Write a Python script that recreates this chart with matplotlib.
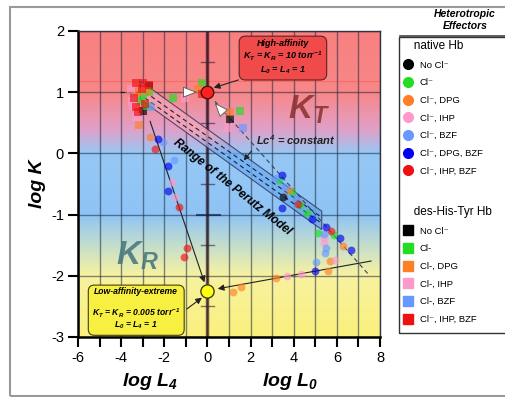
import numpy as np
import matplotlib
matplotlib.use('Agg')
import matplotlib.pyplot as plt
from matplotlib.lines import Line2D
from matplotlib.patches import Polygon, Rectangle

plt.rcParams['font.family'] = ['Liberation Sans', 'DejaVu Sans']
plt.rcParams['axes.unicode_minus'] = False
plt.rcParams['mathtext.fontset'] = 'custom'
plt.rcParams['mathtext.rm'] = 'Liberation Sans:bold:italic'
plt.rcParams['mathtext.it'] = 'Liberation Sans:bold:italic'
plt.rcParams['mathtext.bf'] = 'Liberation Sans:bold:italic'

# native Hb (circles): x = log L, y = log K
nat_labels = ['No Cl\u207b', 'Cl\u207b', 'Cl\u207b, DPG', 'Cl\u207b, IHP', 'Cl\u207b, BZF',
              'Cl\u207b, DPG, BZF', 'Cl\u207b, IHP, BZF']
nat_colors = ['#000000', '#22dd22', '#ff7f27', '#ff99cc', '#6699ff', '#0000ee', '#ee1111']
nat_x = [[3.5],
         [3.33, 3.9, 4.6, 5.13, 5.87, 4.3],
         [-2.65, 1.19, 1.55, 3.2, 5.6, 6.27, 5.68, 3.8],
         [-3.2, -1.65, -1.5, 3.7, 4.35, 5.92, 5.42, 5.4, -3.5],
         [-2.05, -1.55, 5.04, 5.45, 5.5, 5.42, 3.2, 3.6, 4.1],
         [-2.27, -1.83, -1.82, 4.98, 6.15, 6.67, 3.47, 3.47, 4.85, 5.5],
         [-2.43, -1.33, -0.95, -1.08, 5.73, 4.2]]
nat_y = [[-0.72],
         [-0.44, -0.63, -0.97, -1.3, -1.33, -0.84],
         [0.27, -2.26, -2.18, -2.03, -1.92, -1.52, -1.75, -0.6],
         [0.57, -0.47, -0.72, -2.0, -1.97, -1.74, -1.46, -1.38, 0.75],
         [0.18, -0.11, -1.77, -1.62, -1.55, -1.31, -0.4, -0.55, -0.75],
         [0.24, -0.2, -0.61, -1.92, -1.38, -1.58, -0.36, -0.9, -1.07, -1.2],
         [0.08, -0.88, -1.55, -1.7, -1.26, -0.82]]

# des-His-Tyr Hb (squares)
dht_labels = ['No Cl\u207b', 'Cl-', 'Cl-, DPG', 'Cl-, IHP', 'Cl-, BZF', 'Cl\u207b, IHP, BZF']
dht_colors = ['#000000', '#22dd22', '#ff7f27', '#ff99cc', '#6699ff', '#ee1111']
dht_x = [[1.05, -3.0, -2.7],
         [-3.0, -3.1, -2.8, -1.59, -0.25, 1.5, -2.7],
         [-3.2, -2.8, -3.16, -0.43, 1.05],
         [-3.5, -3.55, -1.04, 0.96, -3.3],
         [1.64, -2.6],
         [-3.3, -3.0, -2.7, -3.4, -2.9, -3.3, -3.2, -0.25, -3.05]]
dht_y = [[0.57, 0.7, 1.1],
         [0.95, 0.85, 0.78, 0.9, 1.15, 0.69, 1.0],
         [1.0, 1.02, 0.46, 1.06, 0.68],
         [0.85, 1.05, 0.9, 0.41, 0.6],
         [0.41, 0.75],
         [1.15, 1.15, 1.12, 0.9, 0.8, 0.75, 0.68, 0.97, 1.05]]

fig = plt.figure(figsize=(5.06, 3.97), dpi=100)
ax = fig.add_axes([78 / 506, 1 - 337 / 397, 302 / 506, 306 / 397])
ax.set_xlim(-6, 8)
ax.set_ylim(-3, 2)

# background gradient red -> blue -> yellow
stops_y = [-3.0, -2.0, -1.5, -1.0, 0.0, 0.4, 1.0, 2.0]
stops_c = np.array([[250, 240, 125], [248, 242, 160], [195, 222, 205], [142, 196, 245],
                    [150, 200, 245], [225, 160, 200], [248, 135, 135], [248, 128, 128]]) / 255
yy = np.linspace(2, -3, 400)
grad = np.stack([np.interp(yy, stops_y, stops_c[:, k]) for k in range(3)], axis=-1)
ax.imshow(grad[:, None, :], extent=[-6, 8, -3, 2], aspect='auto', zorder=0)

for gx in range(-6, 9):
    ax.axvline(gx, color='#1a2640', alpha=0.55, lw=1, zorder=1)
for gy in range(-3, 3):
    ax.axhline(gy, color='#1a2640', alpha=0.55, lw=1, zorder=1)
ax.axhline(1.18, color='#ff4040', alpha=0.4, lw=0.8, zorder=1)
ax.axvline(0, color='#200010', alpha=0.6, lw=2.5, zorder=1)
for cy in [1.5, 0.5, -0.5, -1.5, -2.5]:
    ax.plot([-0.3, 0.3], [cy, cy], color='#302030', alpha=0.6, lw=1, zorder=1)
ax.plot([-0.5, 0.6], [-1, -1], color='#102040', alpha=0.7, lw=1.5, zorder=1)

# Perutz band
bx0, bx1 = -3.1, 5.3
c0, slope, hw = 1.03, -0.25, 0.15
yl = c0 + slope * (bx1 - bx0 + 0.1)
band_xy = [[bx0, c0 + hw], [bx1, yl + hw], [bx1, yl - hw], [bx0, c0 - hw]]
band_stops_y = [-1.5, 0.0, 0.35, 2.0]
band_stops_c = np.array([[95, 165, 240], [110, 175, 245], [245, 165, 185], [245, 165, 180]]) / 255
bgrad = np.stack([np.interp(yy, band_stops_y, band_stops_c[:, k]) for k in range(3)], axis=-1)
bimg = ax.imshow(bgrad[:, None, :], extent=[-6, 8, -3, 2], aspect='auto', alpha=0.75, zorder=2)
bpoly = Polygon(band_xy, closed=True, fill=False, ec='#303050', lw=0.8, alpha=0.8, zorder=2)
ax.add_patch(bpoly)
bimg.set_clip_path(bpoly)
for off in [0.05, -0.05]:
    ax.plot([bx0 + 0.2, bx1 - 0.1], [c0 + off + slope * 0.3, c0 + off + slope * (bx1 - bx0 + 0.0)],
            ls='--', dashes=(4, 3), color='#202030', lw=0.8, zorder=3)
ax.plot([-4.05, -3.1], [1.0, 1.0], ls='--', dashes=(4, 3), color='#202030', lw=0.8, zorder=3)
ax.plot([0.35, 7.45], [0.85, -1.97], ls='--', dashes=(4, 3), color='#404050', lw=0.8, zorder=3)

# trend lines into the low-affinity point
ax.annotate('', xy=(-0.1, -2.15), xytext=(-2.7, 0.57),
            arrowprops=dict(arrowstyle='-|>', color='#222222', lw=0.8, mutation_scale=9), zorder=3)
ax.annotate('', xy=(0.35, -2.22), xytext=(7.72, -1.75),
            arrowprops=dict(arrowstyle='-|>', color='#222222', lw=0.8, mutation_scale=9), zorder=3)

for xs, ys, col in zip(nat_x, nat_y, nat_colors):
    ax.scatter(xs, ys, s=32, c=col, marker='o', alpha=0.65, lw=0, zorder=4)
for xs, ys, col in zip(dht_x, dht_y, dht_colors):
    ax.scatter(xs, ys, s=30, c=col, marker='s', alpha=0.65, lw=0, zorder=4)

ax.plot(0, 1, 'o', ms=9, mfc='#ff2020', mec='#501010', mew=1, zorder=6)
ax.plot(0, -2.25, 'o', ms=9.5, mfc='#ffff10', mec='#404010', mew=1, zorder=6)

# hollow arrows near the high-affinity point
ax.annotate('', xy=(-0.35, 1.0), xytext=(-0.95, 1.0),
            arrowprops=dict(arrowstyle='-|>,head_length=0.9,head_width=0.35', fc='white', ec='#555555',
                            lw=0.6, mutation_scale=10), zorder=5)
ax.annotate('', xy=(0.25, 0.86), xytext=(0.85, 0.62),
            arrowprops=dict(arrowstyle='-|>,head_length=0.9,head_width=0.35', fc='white', ec='#555555',
                            lw=0.6, mutation_scale=10), zorder=5)

# boxes
ax.annotate('High-affinity\n$K_T$ = $K_R$ = 10 torr$^{-1}$\n$L_0$ = $L_4$ = 1', xy=(0.17, 1.06),
            xytext=(3.5, 1.57), ha='center', va='center', fontsize=6.5, fontweight='bold',
            fontstyle='italic', linespacing=1.2,
            bbox=dict(boxstyle='round,pad=0.45,rounding_size=0.7', fc='#f04a4a', ec='#602020', lw=0.8),
            arrowprops=dict(arrowstyle='-|>', color='#222222', lw=0.8, mutation_scale=9,
                            relpos=(0.1, 0.0)), zorder=7)
ax.annotate('Low-affinity-extreme\n\n$K_T$ = $K_R$ = 0.005 torr$^{-1}$\n$L_0$ = $L_4$ = 1',
            xy=(-0.15, -2.33), xytext=(-3.3, -2.55), ha='center', va='center', fontsize=6.2,
            fontweight='bold', fontstyle='italic', linespacing=1.05,
            bbox=dict(boxstyle='round,pad=0.45,rounding_size=0.7', fc='#f8f040', ec='#404010', lw=0.8),
            arrowprops=dict(arrowstyle='-|>', color='#222222', lw=0.8, mutation_scale=9,
                            relpos=(1.0, 0.4)), zorder=7)

ax.text(4.72, 0.72, '$K_T$', fontsize=24, color='#8a3030', alpha=0.85, ha='center', va='center', zorder=3)
ax.text(-3.25, -1.68, '$K_R$', fontsize=24, color='#4a7a80', alpha=0.9, ha='center', va='center', zorder=3)
ax.text(1.15, -0.55, 'Range of the Perutz Model', fontsize=8.5, fontweight='bold', fontstyle='italic',
        rotation=-38.5, ha='center', va='center', zorder=5)
ax.annotate('$Lc^4$ = constant', xy=(1.6, -0.15), xytext=(4.1, 0.22), ha='center', va='center',
            fontsize=8, fontweight='bold', fontstyle='italic', color='#222222',
            arrowprops=dict(arrowstyle='-|>', color='#222222', lw=0.8, mutation_scale=8,
                            relpos=(0.0, 0.1)), zorder=5)

# axes styling
ax.set_xticks(range(-6, 9))
ax.set_xticklabels([str(v) if v % 2 == 0 else '' for v in range(-6, 9)])
ax.set_yticks(range(-3, 3))
ax.tick_params(direction='out', length=7, width=1.5, labelsize=10.5, pad=3)
for side in ['left', 'bottom']:
    ax.spines[side].set_linewidth(1.8)
for side in ['top', 'right']:
    ax.spines[side].set_linewidth(1.0)
    ax.spines[side].set_color('#333344')
ax.set_ylabel('log K', fontsize=14, fontweight='bold', fontstyle='italic', labelpad=4)
fig.text(150 / 506, 1 - 381 / 397, 'log $L_4$', fontsize=14, fontweight='bold', fontstyle='italic',
         ha='center', va='center')
fig.text(290 / 506, 1 - 381 / 397, 'log $L_0$', fontsize=14, fontweight='bold', fontstyle='italic',
         ha='center', va='center')

# outer frame and legend area
fig.add_artist(Rectangle((10 / 506, 1 / 397), 0.99, 389 / 397, transform=fig.transFigure,
                         fill=False, ec='#999999', lw=1.5))
fig.text(465 / 506, 1 - 20 / 397, 'Heterotropic\nEffectors', fontsize=7.5, fontweight='bold',
         fontstyle='italic', ha='center', va='center', linespacing=1.15)
fig.add_artist(Line2D([400 / 506, 1], [1 - 36 / 397] * 2, transform=fig.transFigure, color='#444444', lw=1.2))
fig.add_artist(Rectangle((399 / 506, 1 - 333 / 397), 0.3, 296 / 397, transform=fig.transFigure,
                         fill=False, ec='#333333', lw=1))

h1 = [Line2D([], [], ls='', marker='o', ms=7, color=c) for c in nat_colors]
h2 = [Line2D([], [], ls='', marker='s', ms=6.5, color=c) for c in dht_colors]
leg1 = fig.legend(h1, nat_labels, title='   native Hb', loc='upper left',
                  bbox_to_anchor=(401 / 506, 1 - 37 / 397), frameon=False, fontsize=6.8,
                  title_fontsize=8.5, labelspacing=0.92, handlelength=0.8, handletextpad=0.9,
                  borderaxespad=0, borderpad=0.3, alignment='left')
leg2 = fig.legend(h2, dht_labels, title='   des-His-Tyr Hb', loc='upper left',
                  bbox_to_anchor=(401 / 506, 1 - 203 / 397), frameon=False, fontsize=6.8,
                  title_fontsize=8.5, labelspacing=0.92, handlelength=0.8, handletextpad=0.9,
                  borderaxespad=0, borderpad=0.3, alignment='left')

fig.savefig('out.png', dpi=100)
